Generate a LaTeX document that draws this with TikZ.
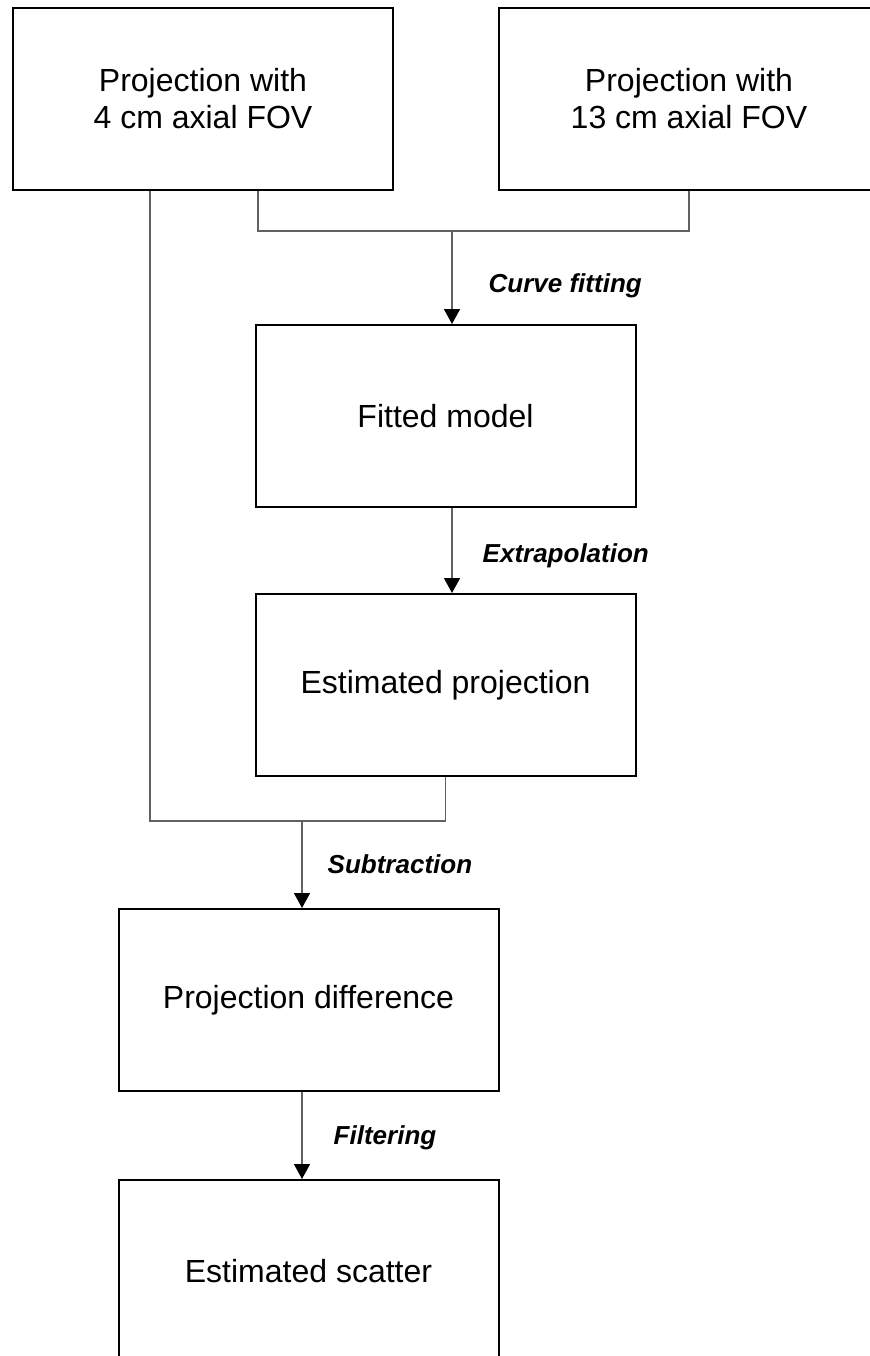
\documentclass[tikz,border=0pt]{standalone}
\usepackage{fontspec}
\setmainfont{Liberation Sans}
\usetikzlibrary{positioning}
\usetikzlibrary{arrows.meta}

\begin{document}
\begin{tikzpicture}[
        x = 0.5pt,
        y = -0.5pt,
        box/.style = {
            draw,
            line width = 1pt,
            minimum width = 190pt,
            minimum height = 91pt,
            align = center,
            inner sep = 0pt,
            font = \fontsize{16}{18.5}\selectfont
        },
        link/.style = {
            draw = black!62,
            line width = 0.7pt
        },
        arrow/.style = {
            link,
            -{Triangle[width = 8pt, length = 7.5pt, color = black]}
        },
        tag/.style = {
            inner sep = 0pt,
            font = \fontsize{13}{15}\selectfont\bfseries\itshape
        },
        node distance = {43pt}
            ]
            \useasboundingbox (0,0) rectangle (870,1356);
            \clip (0,0) rectangle (870,1356);

            \node[box] (fov4) at (203,99) {Projection with\\4 cm axial FOV};
            \node[box, right=52pt of fov4] (fov13) {Projection with\\13 cm axial FOV};

            \node[box] (fitted) at (445.5,416) {Fitted model};
            \node[box, below=42.5pt of fitted] (estproj) {Estimated projection};

            \node[box] (diff) at (308.5,1000) {Projection difference};
            \node[box, below=43.5pt of diff] (scatter) {Estimated scatter};

            \coordinate (fitin) at (452,231);
            \coordinate (subin) at (302,821);

            % merging the two projections
            \draw[link] ([xshift=27.5pt]fov4.south) |- (fitin) -| (fov13.south);
            \draw[arrow] (fitin) -- node[tag, right=18pt, yshift=-4pt]{Curve fitting} (fitin |- fitted.north);

            \draw[arrow] ([xshift=3.25pt]fitted.south) -- node[tag, right=15pt, yshift=-2.5pt]{Extrapolation} ([xshift=3.25pt]estproj.north);

            % 4 cm projection minus estimate
            \draw[link] ([xshift=-26.5pt]fov4.south) |- (subin) -| (estproj.south);
            \draw[arrow] (subin) -- node[tag, right=12.5pt]{Subtraction} (subin |- diff.north);

            \draw[arrow] ([xshift=-3.25pt]diff.south) -- node[tag, right=15.5pt, yshift=-1pt]{Filtering} ([xshift=-3.25pt]scatter.north);

        \end{tikzpicture}
\end{document}
